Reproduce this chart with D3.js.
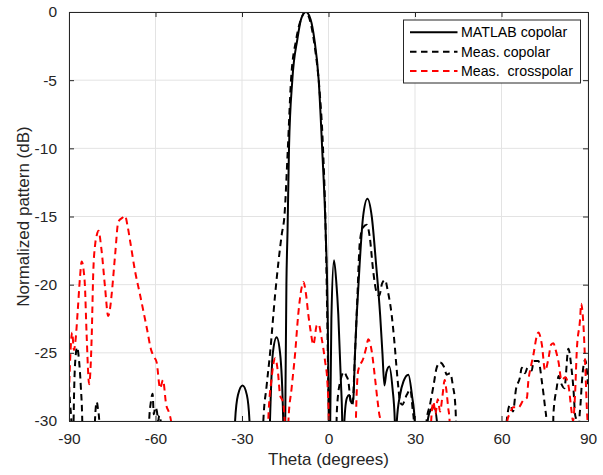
<!DOCTYPE html>
<html>
<head>
<meta charset="utf-8">
<script src="https://cdn.jsdelivr.net/npm/d3@7"></script>
<style>
  html, body { margin: 0; padding: 0; background: #fff; }
  svg { display: block; font-family: "Liberation Sans", Arial, Helvetica, sans-serif; }
</style>
</head>
<body>
<svg id="chart" width="603" height="475"></svg>
<script>
// ---- data (theta in degrees, normalized pattern in dB) ----
const xTicks = [-90, -60, -30, 0, 30, 60, 90];
const yTicks = [-30, -25, -20, -15, -10, -5, 0];
const seriesNames = ["MATLAB copolar", "Meas. copolar", "Meas.  crosspolar"];

const matlabCopolar = [
  [-90,-40],[-33.6,-40],[-32.4,-30],[-31.4,-28.1],[-29.8,-27.4],[-28.3,-28.1],[-27.4,-30],[-26.6,-40],
  [-21.4,-40],[-20.3,-30],[-19.3,-25],[-18,-23.85],[-16.8,-25],[-15.7,-30],[-15.35,-40],
  [-15.0,-30],[-14.6,-20],[-14.2,-16],[-13.7,-10],[-12.55,-5],[-10.8,-2],[-9.4,-0.45],[-7.8,0],
  [-6.2,-0.55],[-4.9,-2],[-3.4,-5],[-2.2,-10],[-1.0,-16],[-0.3,-22],[0.1,-30],[0.35,-40],
  [0.6,-30],[1.0,-22.5],[1.9,-18.2],[2.7,-19.8],[3.4,-22.2],[4.3,-27.1],[4.75,-30],[5.1,-40],
  [5.5,-30],[6.4,-28.3],[7.2,-28.1],[8.0,-28.7],[8.6,-28.4],[9.2,-25],[9.8,-22.2],[10.8,-18.5],
  [12,-15],[13.5,-13.7],[15,-15],[16.5,-18.5],[17.9,-22.2],[18.7,-25],[19.4,-27.4],[20.1,-26.4],
  [21.1,-26.0],[22.2,-27.6],[23.0,-30],[23.3,-40],[23.7,-30],[24.8,-28.1],[26.0,-27.1],[27.7,-26.6],
  [29.0,-28.2],[29.9,-30],[30.3,-40],[33.9,-40],[34.4,-30],[35.4,-29.2],[36.6,-29.0],[37.6,-30],[38.1,-40],
  [90,-40]
];

const measCopolar = [
  [-90,-27.4],[-89.6,-28.8],[-89.2,-30],[-88.8,-40],[-88.4,-30],[-87.8,-25.5],[-87.2,-24.6],[-86.5,-25.6],
  [-85.9,-27.5],[-85.4,-30],[-85.0,-40],[-81.4,-40],[-81.0,-30],[-80.4,-28.6],[-79.9,-29.2],[-79.5,-30],[-79.1,-40],
  [-62.6,-40],[-62.2,-30],[-61.6,-28.6],[-61.0,-28.0],[-60.6,-29.5],[-60.1,-29.0],[-59.5,-29.3],[-59.1,-30],
  [-58.7,-29.6],[-58.2,-30],[-57.8,-40],
  [-23.0,-40],[-22.6,-30],[-21.5,-27.5],[-20.3,-25.1],[-18.5,-20.7],[-16.2,-16.3],[-15.3,-15],[-14.1,-10],
  [-13.0,-5],[-11.2,-2.0],[-9.5,-0.5],[-8.0,0],[-6.2,-0.8],[-4.6,-2.8],[-3.2,-5.5],[-1.9,-10],[-1.1,-15],
  [-0.5,-21.5],[0.0,-28],[0.3,-30],[0.7,-40],
  [2.5,-40],[2.8,-30],[3.1,-28.6],[4.2,-27.0],[5.4,-26.4],[6.2,-26.7],[6.9,-27.1],[7.7,-28.6],[8.3,-28.8],
  [9.2,-25],[9.9,-21.5],[10.9,-16.8],[12.0,-15.8],[13.3,-15.6],[14.3,-16.5],[15.5,-19],[16.6,-20.5],
  [17.6,-20.8],[18.6,-19.9],[19.6,-19.65],[20.6,-20.5],[21.9,-22.2],[22.9,-24.3],[23.6,-26.1],[24.3,-27.7],
  [24.8,-28.6],[25.6,-28.8],[27.1,-28.1],[28.4,-27.7],[29.2,-29.2],[29.6,-30],[30.0,-40],
  [33.6,-40],[34.0,-30],[35.2,-28.8],[36.5,-27.3],[37.5,-26.1],[38.7,-25.7],[40.0,-26.0],[41.0,-26.6],
  [42.2,-26.5],[43.2,-27.5],[43.9,-28.6],[44.2,-30],[44.6,-40],
  [61.4,-40],[61.8,-30],[63.0,-28.8],[64.0,-29.3],[65.0,-27.7],[66.4,-26.8],[67.0,-26.1],[68.2,-26.5],
  [69.0,-26.1],[70.5,-26.3],[71.1,-25.6],[72.8,-25.6],[74.0,-27.1],[75.1,-29.0],[75.6,-30],[76.0,-40],
  [77.6,-40],[78.0,-29.5],[79.2,-27.5],[79.8,-26.7],[80.8,-27.3],[81.8,-27.6],[83.2,-24.7],[84.2,-26.0],
  [85.0,-27.8],[85.5,-29.5],[86.0,-30],[86.6,-40],[87.0,-30],[87.4,-28.8],[87.9,-27.1],[89.0,-25.5],[90,-27.3]
];

const measCrosspolar = [
  [-90,-28],[-89.5,-25],[-88.9,-23.5],[-88.3,-24.8],[-87.7,-24.0],[-87.0,-22],[-86.2,-19.5],[-85.6,-18.3],
  [-84.9,-19],[-84.5,-20.0],[-83.9,-23.6],[-83.0,-27.3],[-82.5,-26],[-82.1,-23.6],[-81.6,-19.2],[-80.9,-17],
  [-80.4,-16.4],[-79.8,-16.05],[-78.7,-17.5],[-77.5,-20.2],[-76.4,-22.3],[-75.8,-21.8],[-75.2,-20.7],
  [-74.0,-17.8],[-72.9,-15.4],[-71.5,-15.1],[-70.6,-14.95],[-69.6,-15.8],[-68.8,-16.8],[-67.1,-19.0],
  [-65.4,-20.7],[-63.0,-23.2],[-61.5,-24.8],[-60.5,-25.3],[-59.6,-25.7],[-58.4,-27.6],[-57.4,-27.0],
  [-56.3,-28.8],[-55.3,-29.4],[-54.5,-30.2],[-54.0,-40],
  [-21.3,-40],[-20.9,-30],[-19.8,-27],[-18.5,-25.4],[-17.5,-26.5],[-16.8,-28.1],[-15.8,-28.6],[-15.2,-30],[-14.8,-40],
  [-14.3,-40],[-13.9,-30],[-12.8,-27.6],[-11.6,-25.1],[-10.5,-22.2],[-9.3,-20.2],[-8.7,-19.8],[-7.8,-20.7],
  [-7.0,-22.2],[-6.2,-23.4],[-5.25,-24.4],[-4.1,-23.0],[-3.5,-22.9],[-2.4,-23.9],[-1.2,-25.6],[-0.4,-27.1],
  [0.1,-30],[0.5,-40],
  [9.1,-40],[9.5,-30],[10.3,-26.3],[12.1,-25.4],[13.1,-24.6],[13.8,-24.0],[15.0,-24.9],[16.1,-26.8],
  [17.0,-28.5],[17.6,-29.5],[18.0,-30],[18.3,-40],
  [35.3,-40],[35.6,-30],[36.4,-28.6],[37.1,-29.5],[37.9,-28.4],[38.7,-29.3],[39.5,-28.2],[40.3,-27.0],
  [40.8,-27.6],[41.5,-29],[42.0,-30],[42.3,-40],
  [61.7,-40],[62.0,-30],[63.0,-29.4],[64.1,-29.0],[65.9,-29.0],[67.5,-28.5],[68.8,-28.3],[69.3,-27.1],
  [70.2,-26.0],[71.1,-25.1],[72.2,-23.8],[72.8,-23.5],[74.0,-24.4],[75.1,-26.3],[76.3,-25.4],[77.2,-24.4],
  [78.0,-24.3],[78.8,-24.8],[79.8,-25.7],[80.8,-27.0],[82.1,-26.8],[83.3,-27.5],[84.3,-29.3],[84.8,-30],
  [85.5,-28.1],[86.1,-24.9],[87.3,-22.4],[87.6,-21.4],[88.4,-22.9],[89.0,-25.7],[89.7,-29.5],[90,-30.5]
];

const seriesData = [matlabCopolar, measCopolar, measCrosspolar];
const seriesColors = ["#000000", "#000000", "#ff0000"];
const seriesDash = [null, "6.5,4.5", "6.5,4.5"];

// ---- layout ----
const svg = d3.select("#chart");
const margin = { left: 69, top: 12, right: 15, bottom: 54 };
const W = 603, H = 475;
const iw = W - margin.left - margin.right; // 519
const ih = H - margin.top - margin.bottom; // 409
const axisColor = "#262626";

const x = d3.scaleLinear().domain([-90, 90]).range([0, iw]);
const y = d3.scaleLinear().domain([-30, 0]).range([ih, 0]);

const g = svg.append("g").attr("transform", `translate(${margin.left},${margin.top})`);

svg.append("defs").append("clipPath").attr("id", "clip")
  .append("rect").attr("x", 0).attr("y", 0).attr("width", iw).attr("height", ih);

// grid
g.append("g").selectAll("line.gx").data(xTicks).join("line")
  .attr("x1", d => x(d)).attr("x2", d => x(d)).attr("y1", 0).attr("y2", ih)
  .attr("stroke", "#e3e3e3").attr("stroke-width", 1);
g.append("g").selectAll("line.gy").data(yTicks).join("line")
  .attr("y1", d => y(d)).attr("y2", d => y(d)).attr("x1", 0).attr("x2", iw)
  .attr("stroke", "#e3e3e3").attr("stroke-width", 1);

// data lines
const line = d3.line().x(d => x(d[0])).y(d => y(d[1])).curve(d3.curveMonotoneX);
const lines = g.append("g").attr("clip-path", "url(#clip)");
seriesData.forEach((data, i) => {
  lines.append("path").datum(data)
    .attr("d", line)
    .attr("fill", "none")
    .attr("stroke", seriesColors[i])
    .attr("stroke-width", 2)
    .attr("stroke-linejoin", "round")
    .attr("stroke-dasharray", seriesDash[i]);
});

// axes (inward ticks on all sides, box)
const tickLen = 5;
const xAxisB = d3.axisBottom(x).tickValues(xTicks).tickSize(-tickLen).tickPadding(12).tickFormat(d3.format("d"));
const xAxisT = d3.axisTop(x).tickValues(xTicks).tickSize(-tickLen).tickFormat("");
const yAxisL = d3.axisLeft(y).tickValues(yTicks).tickSize(-tickLen).tickPadding(12).tickFormat(d3.format("d"));
const yAxisR = d3.axisRight(y).tickValues(yTicks).tickSize(-tickLen).tickFormat("");

function style(sel) {
  sel.select(".domain").attr("stroke", axisColor).attr("stroke-width", 1);
  sel.selectAll(".tick line").attr("stroke", axisColor).attr("stroke-width", 1);
  sel.selectAll(".tick text").attr("fill", axisColor).style("font-size", "15.5px")
    .style("font-family", '"Liberation Sans", Arial, sans-serif');
}
g.append("g").attr("transform", `translate(0,${ih})`).call(xAxisB).call(style);
g.append("g").call(xAxisT).call(style);
g.append("g").call(yAxisL).call(style);
g.append("g").attr("transform", `translate(${iw},0)`).call(yAxisR).call(style);

g.selectAll(".tick text").each(function() {
  const t = d3.select(this);
  t.text(t.text().replace("−", "-"));
});

// axis labels
svg.append("text")
  .attr("x", margin.left + iw / 2).attr("y", 465)
  .attr("text-anchor", "middle").attr("fill", axisColor)
  .style("font-size", "17px")
  .text("Theta (degrees)");
svg.append("text")
  .attr("transform", `translate(29,${margin.top + ih / 2}) rotate(-90)`)
  .attr("text-anchor", "middle").attr("fill", axisColor)
  .style("font-size", "17px")
  .text("Normalized pattern (dB)");

// legend
const lg = svg.append("g").attr("transform", "translate(403.5,20)");
lg.append("rect").attr("width", 177).attr("height", 63)
  .attr("fill", "#fff").attr("stroke", axisColor).attr("stroke-width", 1);
seriesNames.forEach((name, i) => {
  const yy = 12.3 + i * 19.4;
  lg.append("line").attr("x1", 6.5).attr("x2", 54).attr("y1", yy).attr("y2", yy)
    .attr("stroke", seriesColors[i]).attr("stroke-width", 2)
    .attr("stroke-dasharray", seriesDash[i]);
  lg.append("text").attr("x", 57.5).attr("y", yy).attr("dy", "0.36em")
    .attr("fill", "#000").style("font-size", "14.2px")
    .style("white-space", "pre").attr("xml:space", "preserve")
    .text(name);
});
</script>
</body>
</html>
